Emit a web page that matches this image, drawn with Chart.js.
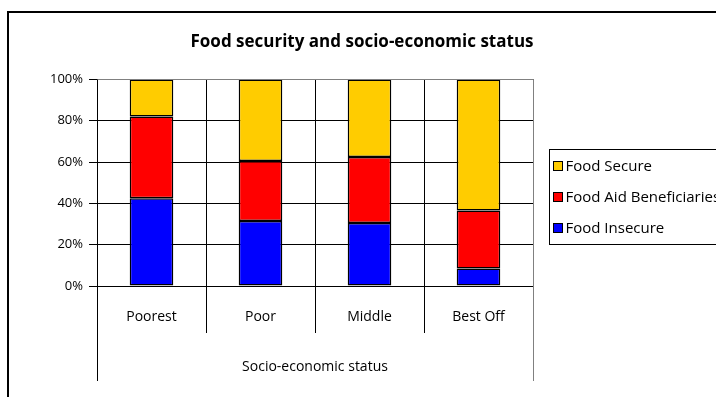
<!DOCTYPE html>
<html>
<head>
<meta charset="utf-8">
<script src="https://cdn.jsdelivr.net/npm/chart.js@4"></script>
<style>
  html, body { margin: 0; padding: 0; background: #fff; }
  #wrap { width: 716px; height: 397px; }
</style>
</head>
<body>
<div id="wrap"><canvas id="foodChart" width="716" height="397"></canvas></div>
<script>
const categories = ['Poorest', 'Poor', 'Middle', 'Best Off'];
const foodInsecure = [42.5, 31.5, 30.5, 8.5];
const foodAid = [39.5, 29, 32, 28];
const foodSecure = [18, 39.5, 37.5, 63.5];
const yTicks = [0, 20, 40, 60, 80, 100];

const FONT = '"Open Sans", Lato, "DejaVu Sans", sans-serif';

// рамка, разделители оси X и легенда в стиле Excel
const excelDecor = {
    id: 'excelDecor',
    afterDraw(chart) {
        const ctx = chart.ctx;
        const area = chart.chartArea;
        const xs = chart.scales.x;
        const n = categories.length;
        ctx.save();

        // внешняя рамка
        ctx.strokeStyle = '#000';
        ctx.lineWidth = 2;
        ctx.beginPath();
        ctx.moveTo(8, chart.height + 5);
        ctx.lineTo(8, 12);
        ctx.lineTo(chart.width + 5, 12);
        ctx.stroke();

        // линии под осью X
        ctx.lineWidth = 1;
        for (let i = 0; i <= n; i++) {
            let x;
            if (i === 0) x = area.left;
            else if (i === n) x = area.right;
            else x = (xs.getPixelForValue(i - 1) + xs.getPixelForValue(i)) / 2;
            x = Math.round(x) + 0.5;
            const len = (i === 0 || i === n) ? 95 : 47;
            ctx.strokeStyle = (i === n) ? '#808080' : '#000';
            ctx.beginPath();
            ctx.moveTo(x, area.bottom);
            ctx.lineTo(x, area.bottom + len);
            ctx.stroke();
        }

        // правая и верхняя граница области построения
        ctx.strokeStyle = '#808080';
        ctx.beginPath();
        ctx.moveTo(Math.round(area.left) + 0.5, Math.round(area.top) + 0.5);
        ctx.lineTo(Math.round(area.right) + 0.5, Math.round(area.top) + 0.5);
        ctx.lineTo(Math.round(area.right) + 0.5, Math.round(area.bottom) + 0.5);
        ctx.stroke();

        // легенда
        const lx = Math.round(area.right) + 16.5;
        const ly = Math.round(area.top) + 70.5;
        ctx.strokeStyle = '#000';
        ctx.strokeRect(lx, ly, 200, 95);
        ctx.font = '15px ' + FONT;
        ctx.textBaseline = 'middle';
        ctx.textAlign = 'left';
        const items = chart.data.datasets.slice().reverse();
        items.forEach((ds, i) => {
            const cy = ly + 17 + i * 31;
            ctx.fillStyle = ds.backgroundColor;
            ctx.fillRect(lx + 4, cy - 5, 9, 9);
            ctx.strokeStyle = '#000';
            ctx.strokeRect(lx + 4, cy - 5, 9, 9);
            ctx.fillStyle = '#000';
            ctx.fillText(ds.label, lx + 16, cy);
        });
        ctx.restore();
    }
};

const ctx = document.getElementById('foodChart').getContext('2d');
new Chart(ctx, {
    type: 'bar',
    data: {
        labels: categories,
        datasets: [
            { label: 'Food Insecure', data: foodInsecure, backgroundColor: '#0000FF' },
            { label: 'Food Aid Beneficiaries', data: foodAid, backgroundColor: '#FF0000' },
            { label: 'Food Secure', data: foodSecure, backgroundColor: '#FFCC00' }
        ].map(ds => Object.assign(ds, {
            borderColor: '#000',
            borderWidth: 1.5,
            borderSkipped: false,
            barPercentage: 0.4,
            categoryPercentage: 1
        }))
    },
    options: {
        responsive: false,
        animation: false,
        layout: { padding: { left: 8, right: 0, top: 0, bottom: 16 } },
        plugins: {
            legend: { display: false },
            tooltip: { enabled: false },
            title: {
                display: true,
                text: 'Food security and socio-economic status',
                color: '#000',
                font: { family: FONT, size: 17, weight: 'bold' },
                padding: { top: 32, bottom: 27 }
            }
        },
        scales: {
            x: {
                stacked: true,
                offset: true,
                grid: { offset: true, color: '#000', drawTicks: false },
                border: { color: '#000' },
                ticks: { color: '#000', padding: 23, font: { family: FONT, size: 14 } },
                title: {
                    display: true,
                    text: 'Socio-economic status',
                    color: '#000',
                    font: { family: FONT, size: 14 },
                    padding: { top: 0, bottom: 6 }
                },
                afterFit(scale) { scale.height = 95; }
            },
            y: {
                stacked: true,
                min: 0,
                max: 100,
                afterBuildTicks(scale) { scale.ticks = yTicks.map(v => ({ value: v })); },
                grid: { color: '#000', tickLength: 8 },
                border: { color: '#000' },
                ticks: {
                    color: '#000',
                    padding: 6,
                    font: { family: FONT, size: 13 },
                    callback: v => v + '%'
                },
                afterFit(scale) { scale.width = 89; }
            },
            // пустая ось справа — оставляет место под легенду
            side: {
                position: 'right',
                display: true,
                grid: { display: false },
                border: { display: false },
                ticks: { display: false },
                afterFit(scale) { scale.width = 183; }
            }
        }
    },
    plugins: [excelDecor]
});
</script>
</body>
</html>
